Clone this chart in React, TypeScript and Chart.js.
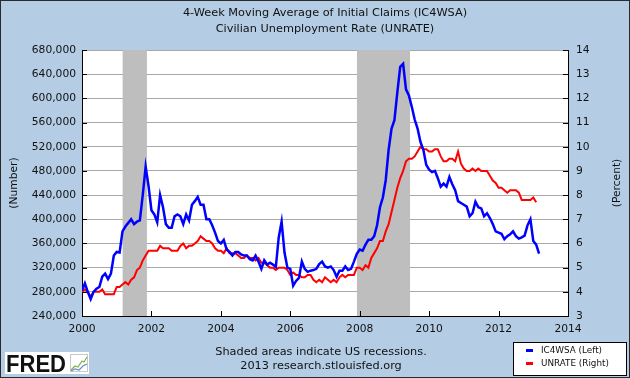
import React, { useEffect, useRef } from "react";
import { Chart, registerables } from "chart.js";

Chart.register(...registerables);

// ---- Data (monthly, Jan 2000 onward) ----
const startYear = 2000;

// 4-Week Moving Average of Initial Claims, thousands
const claimsThousands = [
  // 2000
  282, 294, 280, 268, 280, 285, 288, 305, 310, 301, 310, 340,
  // 2001
  346, 345, 380, 388, 394, 400, 392, 396, 398, 440, 487, 455,
  // 2002
  415, 408, 395, 440, 420, 392, 386, 386, 405, 408, 405, 392,
  // 2003
  408, 398, 424, 430, 437, 424, 424, 400, 400, 390, 378, 364,
  // 2004
  360, 366, 350, 346, 340, 346, 346, 342, 340, 340, 334, 332,
  // 2005
  340, 330, 318, 332, 325, 328, 325, 321, 370, 396, 345, 320,
  // 2006
  318, 290, 298, 303, 330, 318, 313, 315, 316, 318, 326, 330,
  // 2007
  322, 320, 322, 316, 305, 315, 315, 322, 316, 318, 330, 343,
  // 2008
  350, 348, 358, 366, 366, 372, 390, 420, 436, 465, 515, 550,
  // 2009
  564, 610, 652, 657, 615, 605, 586, 565, 550, 528, 515, 490,
  // 2010
  482, 478, 480, 468, 454, 459, 454, 470, 458, 448, 430, 427,
  // 2011
  424, 421, 405, 410, 429, 420, 418, 405, 410, 402, 392, 380,
  // 2012
  378, 376, 367, 372, 375, 380, 372, 368, 370, 373, 390, 400,
  // 2013
  364, 358, 343,
];

// Civilian Unemployment Rate, percent
const unemploymentRate = [
  // 2000
  4.0, 4.1, 4.0, 3.8, 4.0, 4.0, 4.0, 4.1, 3.9, 3.9, 3.9, 3.9,
  // 2001
  4.2, 4.2, 4.3, 4.4, 4.3, 4.5, 4.6, 4.9, 5.0, 5.3, 5.5, 5.7,
  // 2002
  5.7, 5.7, 5.7, 5.9, 5.8, 5.8, 5.8, 5.7, 5.7, 5.7, 5.9, 6.0,
  // 2003
  5.8, 5.9, 5.9, 6.0, 6.1, 6.3, 6.2, 6.1, 6.1, 6.0, 5.8, 5.7,
  // 2004
  5.7, 5.6, 5.8, 5.6, 5.6, 5.6, 5.5, 5.4, 5.4, 5.5, 5.4, 5.4,
  // 2005
  5.3, 5.4, 5.2, 5.2, 5.1, 5.0, 5.0, 4.9, 5.0, 5.0, 5.0, 4.9,
  // 2006
  4.7, 4.8, 4.7, 4.7, 4.6, 4.6, 4.7, 4.7, 4.5, 4.4, 4.5, 4.4,
  // 2007
  4.6, 4.5, 4.4, 4.5, 4.4, 4.6, 4.7, 4.6, 4.7, 4.7, 4.7, 5.0,
  // 2008
  5.0, 4.9, 5.1, 5.0, 5.4, 5.6, 5.8, 6.1, 6.1, 6.5, 6.8, 7.3,
  // 2009
  7.8, 8.3, 8.7, 9.0, 9.4, 9.5, 9.5, 9.6, 9.8, 10.0, 9.9, 9.9,
  // 2010
  9.8, 9.8, 9.9, 9.9, 9.6, 9.4, 9.4, 9.5, 9.5, 9.4, 9.8, 9.3,
  // 2011
  9.1, 9.0, 9.0, 9.1, 9.0, 9.1, 9.0, 9.0, 9.0, 8.8, 8.6, 8.5,
  // 2012
  8.3, 8.3, 8.2, 8.1, 8.2, 8.2, 8.2, 8.1, 7.8, 7.8, 7.8, 7.8,
  // 2013
  7.9, 7.7,
];

// US recessions (decimal years)
const recessionStarts = [2001.17, 2007.92];
const recessionEnds = [2001.87, 2009.45];

const xTickYears = [2000, 2002, 2004, 2006, 2008, 2010, 2012, 2014];
const titleLines = [
  "4-Week Moving Average of Initial Claims (IC4WSA)",
  "Civilian Unemployment Rate (UNRATE)",
];
const footerLines = [
  "Shaded areas indicate US recessions.",
  "2013 research.stlouisfed.org",
];
const legendLabels = ["IC4WSA (Left)", "UNRATE (Right)"];

const W = 630;
const H = 378;
const BG = "#b4cde4";
const FONT = '"DejaVu Sans", Verdana, sans-serif';
const BLUE = "#0000ff";
const RED = "#ff0000";

const toPoints = (vals: number[], scale = 1) =>
  vals.map((v, i) => ({ x: startYear + i / 12, y: v * scale }));

const fredPlugin = {
  id: "fredDecor",
  beforeDraw(chart: any) {
    const { ctx, chartArea: a } = chart;
    ctx.save();
    ctx.fillStyle = BG;
    ctx.fillRect(0, 0, W, H);
    ctx.fillStyle = "#ffffff";
    ctx.fillRect(a.left, a.top, a.right - a.left, a.bottom - a.top);
    ctx.restore();
  },
  beforeDatasetsDraw(chart: any) {
    const { ctx, chartArea: a, scales } = chart;
    const xs = scales.x;
    ctx.save();
    ctx.fillStyle = "#bebebe";
    recessionStarts.forEach((s, i) => {
      const x0 = xs.getPixelForValue(s);
      const x1 = xs.getPixelForValue(recessionEnds[i]);
      ctx.fillRect(x0, a.top, x1 - x0, a.bottom - a.top);
    });
    // inside tick marks
    ctx.strokeStyle = "#000";
    ctx.lineWidth = 1;
    ctx.beginPath();
    scales.y.ticks.forEach((t: any) => {
      const py = Math.round(scales.y.getPixelForValue(t.value)) + 0.5;
      ctx.moveTo(a.left, py);
      ctx.lineTo(a.left + 5, py);
    });
    scales.y1.ticks.forEach((t: any) => {
      const py = Math.round(scales.y1.getPixelForValue(t.value)) + 0.5;
      ctx.moveTo(a.right - 5, py);
      ctx.lineTo(a.right, py);
    });
    xTickYears.forEach((yr) => {
      const px = Math.round(xs.getPixelForValue(yr)) + 0.5;
      ctx.moveTo(px, a.bottom);
      ctx.lineTo(px, a.bottom - 5);
    });
    ctx.stroke();
    ctx.restore();
  },
  afterDraw(chart: any) {
    const { ctx, chartArea: a } = chart;
    ctx.save();
    ctx.fillStyle = "#111";
    ctx.textAlign = "center";
    ctx.textBaseline = "middle";
    ctx.font = `11.3px ${FONT}`;
    const cx = (a.left + a.right) / 2;
    ctx.fillText(titleLines[0], cx, 13);
    ctx.fillText(titleLines[1], cx, 29);
    ctx.fillText(footerLines[0], 321, 352);
    ctx.fillText(footerLines[1], 321, 366);

    // axis titles
    const cy = (a.top + a.bottom) / 2;
    ctx.font = `10.7px ${FONT}`;
    ctx.save();
    ctx.translate(14, cy);
    ctx.rotate(-Math.PI / 2);
    ctx.fillText("(Number)", 0, 0);
    ctx.restore();
    ctx.save();
    ctx.translate(617, cy);
    ctx.rotate(-Math.PI / 2);
    ctx.fillText("(Percent)", 0, 0);
    ctx.restore();

    // legend
    ctx.fillStyle = "#fff";
    ctx.fillRect(513, 342, 114, 34);
    ctx.strokeStyle = "#000";
    ctx.lineWidth = 1;
    ctx.strokeRect(513.5, 342.5, 113, 33);
    const colors = [BLUE, RED];
    ctx.font = `8.8px ${FONT}`;
    ctx.textAlign = "left";
    legendLabels.forEach((lab, i) => {
      const ly = 350 + i * 13;
      ctx.fillStyle = colors[i];
      ctx.fillRect(526, ly - 1, 7, 3);
      ctx.fillStyle = "#111";
      ctx.fillText(lab, 541, ly + 0.5);
    });

    // FRED logo
    ctx.fillStyle = "#fff";
    ctx.fillRect(5, 352, 84, 22);
    ctx.fillStyle = "#111";
    ctx.font = `bold 24px "Liberation Sans", Arial, sans-serif`;
    ctx.textBaseline = "alphabetic";
    ctx.fillText("FRED", 6, 372, 60);
    // small icon
    ctx.strokeStyle = "#c8c8c8";
    ctx.lineWidth = 1;
    ctx.strokeRect(70.5, 354.5, 17, 17);
    ctx.beginPath();
    ctx.strokeStyle = "#7ab648";
    ctx.lineWidth = 1.2;
    ctx.moveTo(71, 370); ctx.lineTo(75, 366); ctx.lineTo(78, 367); ctx.lineTo(82, 361); ctx.lineTo(84, 362); ctx.lineTo(87, 357);
    ctx.stroke();
    ctx.beginPath();
    ctx.strokeStyle = "#6b8fc8";
    ctx.moveTo(71, 371); ctx.lineTo(75, 369); ctx.lineTo(79, 370); ctx.lineTo(83, 366); ctx.lineTo(87, 364);
    ctx.stroke();

    // outer border
    ctx.strokeStyle = "#2a2a2a";
    ctx.lineWidth = 1;
    ctx.strokeRect(0.5, 0.5, W - 1, H - 1);
    ctx.restore();
  },
};

export default function App() {
  const ref = useRef<HTMLCanvasElement | null>(null);
  useEffect(() => {
    if (!ref.current) return;
    const chart = new Chart(ref.current, {
      type: "line",
      data: {
        datasets: [
          {
            label: legendLabels[0],
            data: toPoints(claimsThousands, 1000),
            borderColor: BLUE,
            borderWidth: 2.5,
            pointRadius: 0,
            tension: 0,
            yAxisID: "y",
          },
          {
            label: legendLabels[1],
            data: toPoints(unemploymentRate),
            borderColor: RED,
            borderWidth: 2,
            pointRadius: 0,
            tension: 0,
            yAxisID: "y1",
          },
        ],
      },
      options: {
        animation: false,
        responsive: false,
        devicePixelRatio: 1,
        parsing: true,
        layout: { padding: { top: 50, left: 0, right: 0, bottom: 0 } },
        plugins: {
          legend: { display: false },
          tooltip: { enabled: false },
          title: { display: false },
        },
        scales: {
          x: {
            type: "linear",
            min: 2000,
            max: 2014,
            afterFit: (s: any) => { s.height = 62; },
            afterBuildTicks: (s: any) => { s.ticks = xTickYears.map((v) => ({ value: v })); },
            grid: { display: false, drawTicks: false },
            border: { display: true, color: "#000", width: 1 },
            ticks: {
              callback: (v: any) => String(v),
              color: "#111",
              font: { family: FONT, size: 10.7 },
              padding: 7,
              maxRotation: 0,
              autoSkip: false,
            },
          },
          y: {
            type: "linear",
            position: "left",
            min: 240000,
            max: 680000,
            afterFit: (s: any) => { s.width = 82; },
            grid: { color: "#a9a9a9", lineWidth: 1, drawTicks: false },
            border: { display: true, color: "#000", width: 1 },
            ticks: {
              stepSize: 40000,
              callback: (v: any) => Number(v).toLocaleString("en-US"),
              color: "#111",
              font: { family: FONT, size: 10.7 },
              padding: 6,
            },
          },
          y1: {
            type: "linear",
            position: "right",
            min: 3,
            max: 14,
            afterFit: (s: any) => { s.width = 62; },
            grid: { display: false, drawTicks: false },
            border: { display: true, color: "#000", width: 1 },
            ticks: {
              stepSize: 1,
              callback: (v: any) => String(v),
              color: "#111",
              font: { family: FONT, size: 10.7 },
              padding: 8,
            },
          },
        },
      },
      plugins: [fredPlugin],
    });
    return () => chart.destroy();
  }, []);
  return (
    <div style={{ position: "absolute", left: 0, top: 0, width: W, height: H }}>
      <canvas ref={ref} width={W} height={H} style={{ width: W, height: H, display: "block" }} />
    </div>
  );
}
